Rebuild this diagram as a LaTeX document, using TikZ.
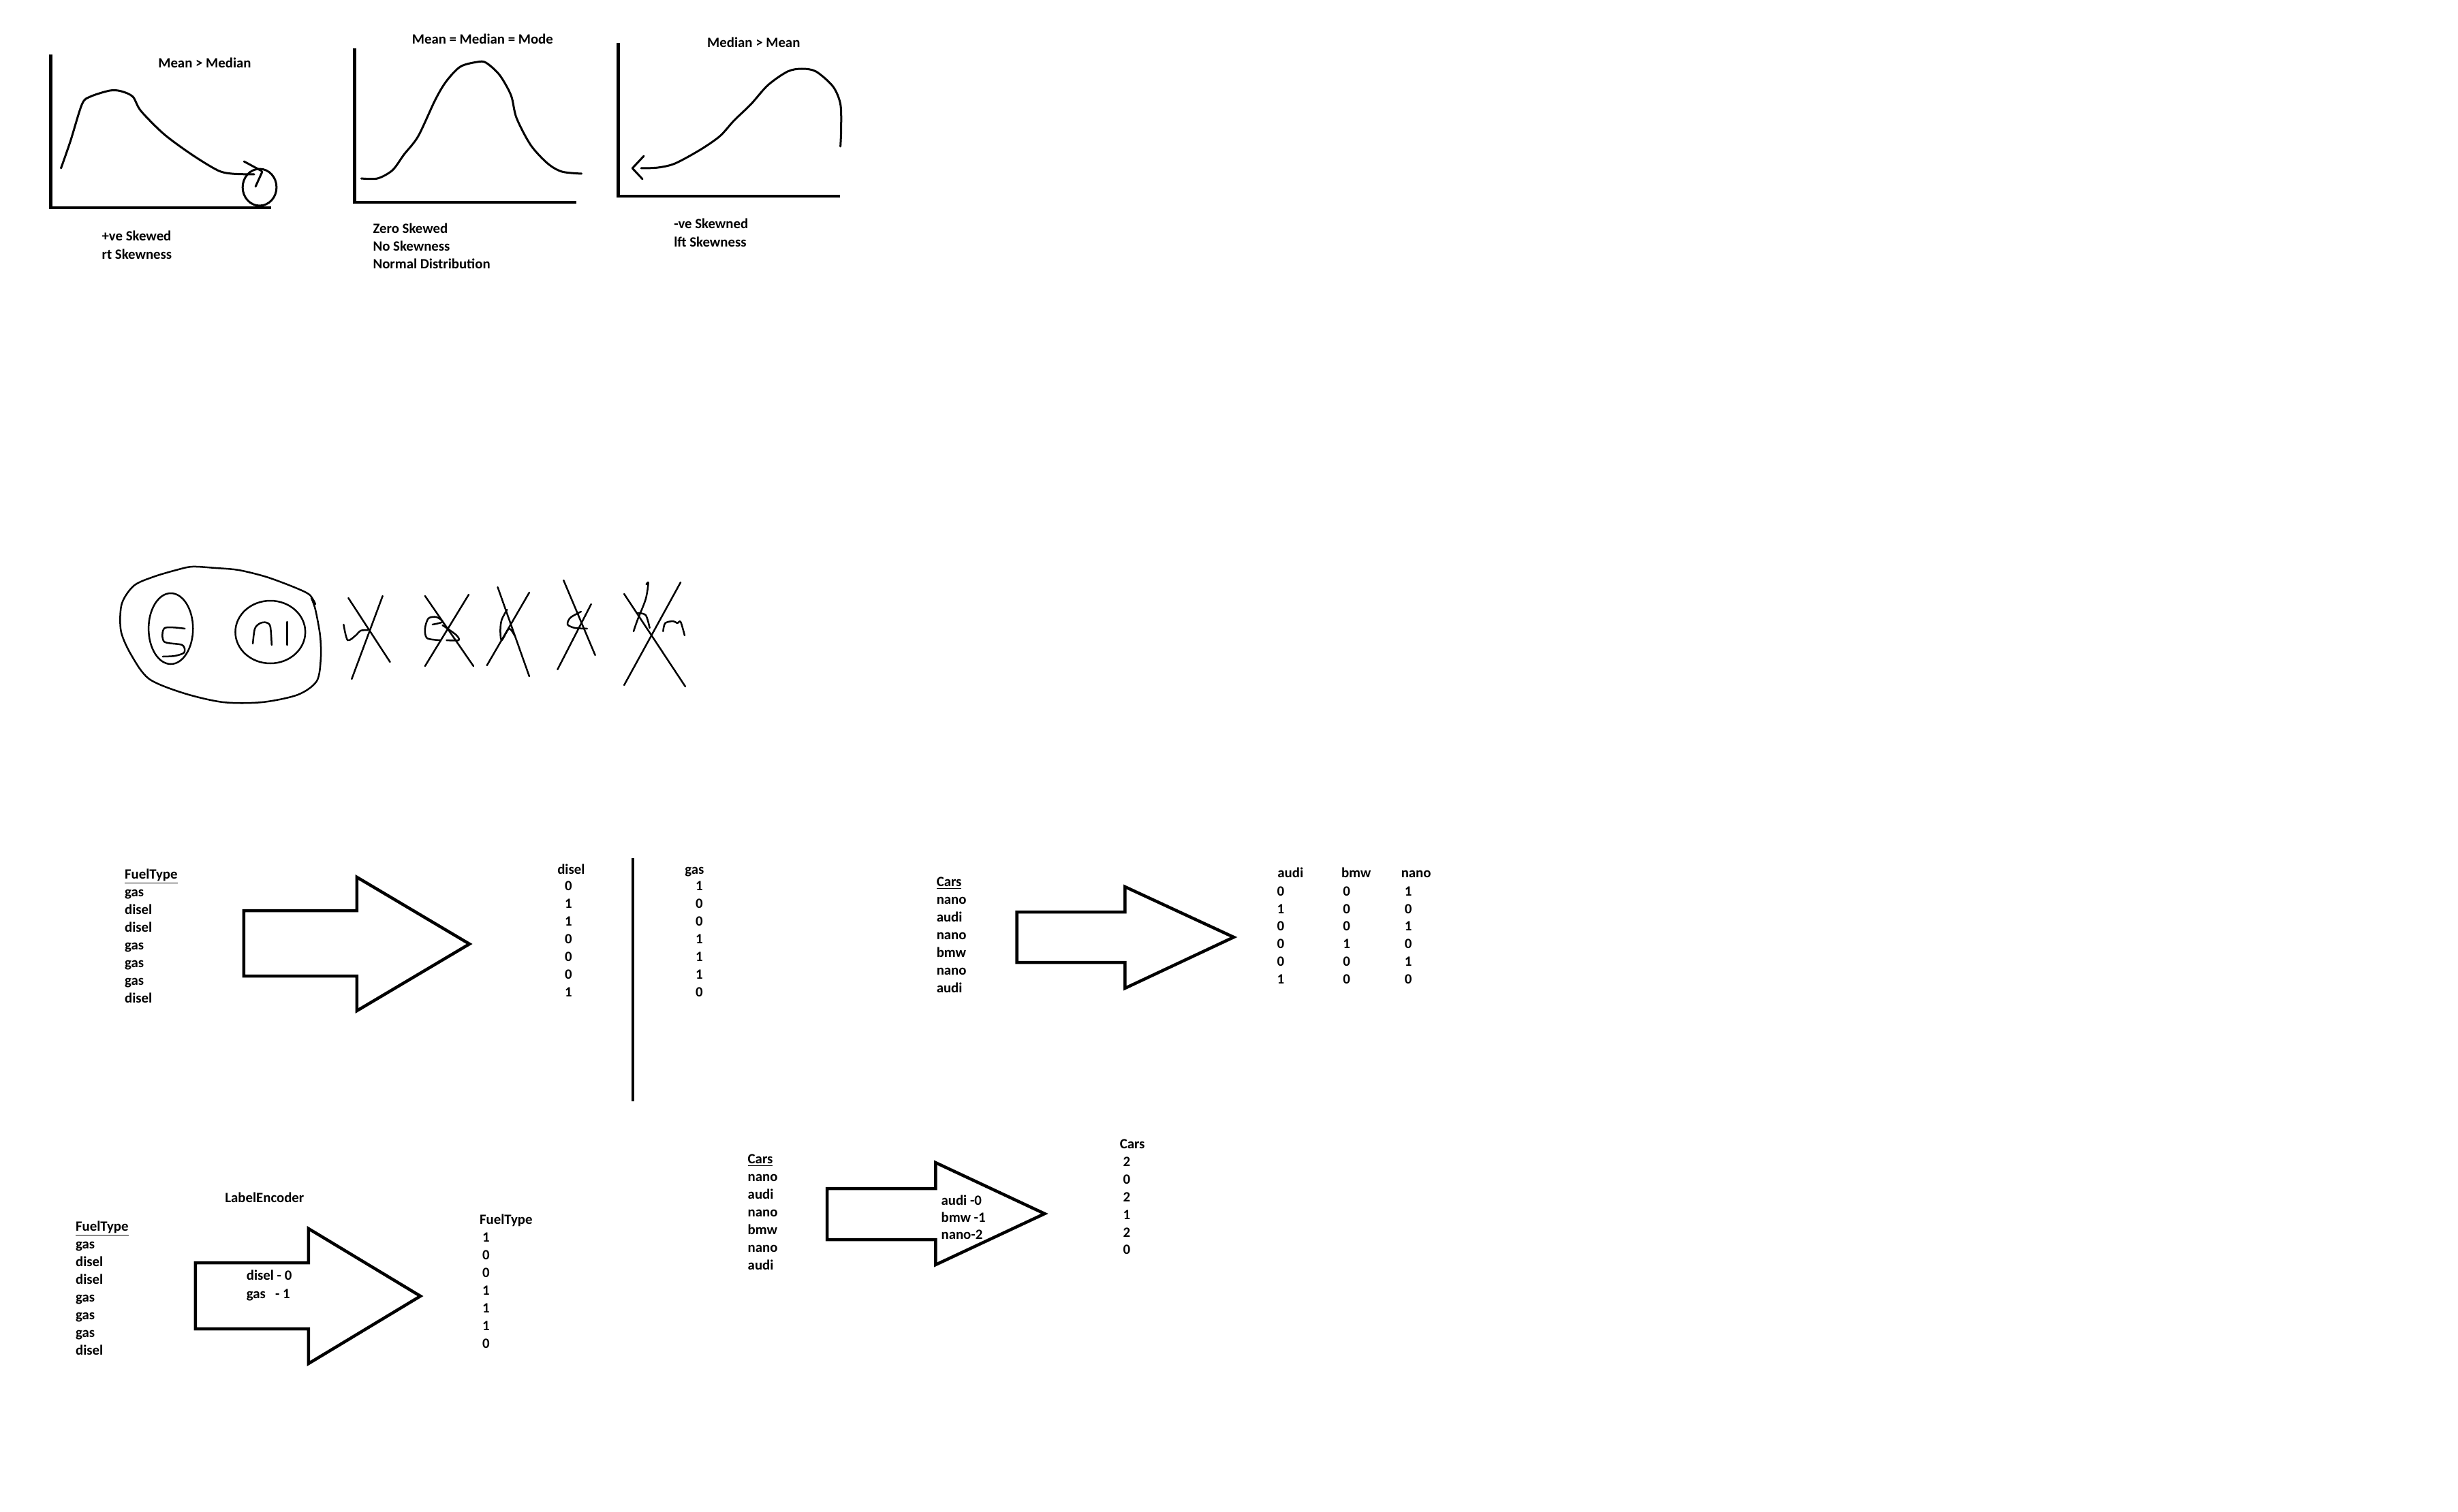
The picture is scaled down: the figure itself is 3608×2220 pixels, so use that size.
\documentclass[tikz,border=0pt]{standalone}
\usepackage{fontspec}
\setmainfont{Carlito}
\begin{document}
\begin{tikzpicture}[x=0.5pt,y=-0.5pt,
  txt/.style={font=\fontsize{10.4}{12}\selectfont\bfseries, inner sep=0pt},
  lt/.style={txt, anchor=base west},
  ct/.style={txt, anchor=base},
  axis/.style={line width=2.25pt, line join=miter},
  crv/.style={line width=1.5pt, line join=round, line cap=round},
  blk/.style={line width=2.25pt, line join=miter},
  pen/.style={line width=1.25pt, line cap=round, line join=round}]
\fill[white] (0,0) rectangle (3608,2220);
\path[use as bounding box] (0,0) rectangle (3608,2220);

% ---------- top graphs ----------
\begin{scope}[xscale=0.99487]
\draw[axis] (75,80) -- (75,305) -- (400,305);
\draw[crv] plot[smooth] coordinates {(90,247) (104,207) (121,153) (133,142) (162,133) (179,134) (196,142) (208,163) (242,197) (283,227) (321,250) (342,255) (375,256)};
\draw[crv] (383,275) ellipse [x radius=25, y radius=27];
\draw[crv] (360,237) -- (386,251);
\draw[crv] (387,252) -- (377,274);
\node[ct] (t1) at (302,100) {Mean > Median};
\node[lt] (l1a) at (150,354) {+ve Skewed};
\node[lt] (l1b) at (150,381) {rt Skewness};

\draw[axis] (523,71) -- (523,297) -- (850,297);
\draw[crv] plot[smooth] coordinates {(533,262) (557,262) (579,250) (596,227) (617,200) (642,147) (658,120) (679,98) (704,91) (717,92) (737,110) (754,140) (762,173) (783,213) (808,240) (829,252) (858,255)};
\node[ct] (t2) at (712,65) {Mean = Median = Mode};
\node[lt] (l2a) at (550,343) {Zero Skewed};
\node[lt] (l2b) at (550,369) {No Skewness};
\node[lt] (l2c) at (550,394) {Normal Distribution};

\draw[axis] (912,63) -- (912,288) -- (1239,288);
\draw[crv] plot[smooth] coordinates {(946,247) (971,246) (996,240) (1033,220) (1062,200) (1083,177) (1108,153) (1133,125) (1162,105) (1183,101) (1204,105) (1229,127) (1240,153) (1241,190) (1240,215)};
\draw[crv] (950,229) -- (933,247) -- (948,263);
\node[ct] (t3) at (1112,70) {Median > Mean};
\node[lt] (l3a) at (994,336) {-ve Skewned};
\node[lt] (l3b) at (994,363) {lft Skewness};
\end{scope}

% ---------- sketch ----------
\begin{scope}[shift={(1.91,0)}, xscale=0.98725]
\draw[pen] plot[smooth] coordinates {(461,878) (467,895) (474,933) (475,967) (469,1000) (441,1020) (388,1031) (330,1031) (272,1018) (220,997) (194,963) (178,927) (179,887) (197,860) (226,847) (260,837) (284,832) (319,834) (353,837) (394,847) (435,862) (458,873) (467,887)};
\draw[pen] (252,923) ellipse [x radius=33, y radius=52];
\draw[pen] plot[smooth, tension=0.5] coordinates {(273,923) (243,922) (242,942) (269,947) (272,958) (258,963) (240,964)};
\draw[pen] (400,928) ellipse [x radius=52, y radius=46];
\draw[pen] plot[smooth] coordinates {(374,945) (377,923) (385,915) (394,914) (400,920) (402,947)};
\draw[pen] (425,913) -- (425,947);
\draw[pen] (516,878) -- (578,972);
\draw[pen] (567,875) -- (521,997);
\draw[pen] plot[smooth, tension=0.5] coordinates {(509,917) (515,940) (528,932) (534,926) (545,925)};
\draw[pen] (630,875) -- (702,978);
\draw[pen] (695,873) -- (630,978);
\draw[pen] plot[smooth] coordinates {(641,917) (656,913) (647,906) (635,908) (630,923) (633,937) (653,940)};
\draw[pen] plot[smooth, tension=0.5] coordinates {(656,918) (676,932) (680,940) (662,940)};
\draw[pen] (738,862) -- (785,993);
\draw[pen] (785,870) -- (722,977);
\draw[pen] plot[smooth] coordinates {(752,895) (744,910) (742,925) (744,940) (755,923) (763,933)};
\draw[pen] (836,852) -- (883,962);
\draw[pen] (877,887) -- (827,983);
\draw[pen] plot[smooth] coordinates {(862,898) (846,907) (842,917) (853,922) (871,923)};
\draw[pen] (926,872) -- (1017,1008);
\draw[pen] (1010,855) -- (926,1006);
\draw[pen] plot[smooth] coordinates {(959,858) (962,856) (958,880) (946,910) (940,927)};
\draw[pen] plot[smooth] coordinates {(945,900) (958,903) (964,922)};
\draw[pen] plot[smooth] coordinates {(984,927) (987,915) (999,912) (1005,915) (1010,913) (1016,933)};
\end{scope}

% ---------- one-hot FuelType ----------
\begin{scope}[shift={(0.66,0)}, xscale=0.9949]
\node[lt] (fa0) at (183,1290) {\underline{FuelType}};
\foreach \w [count=\i] in {gas,disel,disel,gas,gas,gas,disel}
  \node[lt] (fa\i) at (183,{1290+26*\i}) {\w};
\draw[blk] (359,1337) -- (526,1337) -- (526,1288) -- (692,1386) -- (526,1484) -- (526,1433) -- (359,1433) -- cycle;
\node[ct] (dh) at (842,1283) {disel};
\foreach \w [count=\i] in {0,1,1,0,0,0,1}
  \node[ct] (dv\i) at (838,{1281+26*\i}) {\w};
\node[ct] (gh) at (1024,1283) {gas};
\foreach \w [count=\i] in {1,0,0,1,1,1,0}
  \node[ct] (gv\i) at (1031,{1281+26*\i}) {\w};
\draw[line width=2pt] (933,1260) -- (933,1617);
\end{scope}

% ---------- one-hot Cars ----------
\begin{scope}[shift={(19.26,0)}, xscale=0.98552]
\node[lt] (ca0) at (1375,1301) {\underline{Cars}};
\foreach \w [count=\i] in {nano,audi,nano,bmw,nano,audi}
  \node[lt] (ca\i) at (1375,{1301+26*\i}) {\w};
\draw[blk] (1495,1339) -- (1656,1339) -- (1656,1302) -- (1818,1376) -- (1656,1451) -- (1656,1413) -- (1495,1413) -- cycle;
\node[lt] (ah) at (1883,1288) {audi};
\node[lt] (bh) at (1978,1288) {bmw};
\node[lt] (nh) at (2067,1288) {nano};
\foreach \a/\b/\c [count=\i] in {0/0/1,1/0/0,0/0/1,0/1/0,0/0/1,1/0/0} {
  \node[ct] (av\i) at (1888,{1289.5+25.8*\i}) {\a};
  \node[ct] (bv\i) at (1986,{1289.5+25.8*\i}) {\b};
  \node[ct] (nv\i) at (2078,{1289.5+25.8*\i}) {\c};
}
\end{scope}

% ---------- LabelEncoder FuelType ----------
\begin{scope}[shift={(0.31,0)}, xscale=0.9949]
\node[ct] (le) at (390,1765) {LabelEncoder};
\node[lt] (fb0) at (111,1807) {\underline{FuelType}};
\foreach \w [count=\i] in {gas,disel,disel,gas,gas,gas,disel}
  \node[lt] (fb\i) at (111,{1807+26*\i}) {\w};
\draw[blk] (288,1854) -- (455,1854) -- (455,1804) -- (620,1903) -- (455,2002) -- (455,1951) -- (288,1951) -- cycle;
\node[lt] (m1) at (363,1879) {disel - 0};
\node[lt] (m2) at (363,1906) {gas\ \ \ - 1};
\node[lt] (fr0) at (707,1797) {FuelType};
\foreach \w [count=\i] in {1,0,0,1,1,1,0}
  \node[lt] (fr\i) at (711,{1797+26*\i}) {\w};
\end{scope}

% ---------- LabelEncoder Cars ----------
\begin{scope}[shift={(18.93,0)}, xscale=0.98214]
\node[lt] (cb0) at (1098,1708) {\underline{Cars}};
\foreach \w [count=\i] in {nano,audi,nano,bmw,nano,audi}
  \node[lt] (cb\i) at (1098,{1708+26*\i}) {\w};
\draw[blk] (1217,1745) -- (1379,1745) -- (1379,1707) -- (1542,1782) -- (1379,1857) -- (1379,1820) -- (1217,1820) -- cycle;
\node[lt] (k1) at (1387,1769) {audi -0};
\node[lt] (k2) at (1387,1794) {bmw -1};
\node[lt] (k3) at (1387,1819) {nano-2};
\node[lt] (cr0) at (1654,1686) {Cars};
\foreach \w [count=\i] in {2,0,2,1,2,0}
  \node[lt] (cr\i) at (1659,{1687+25.8*\i}) {\w};
\end{scope}
\end{tikzpicture}
\end{document}
